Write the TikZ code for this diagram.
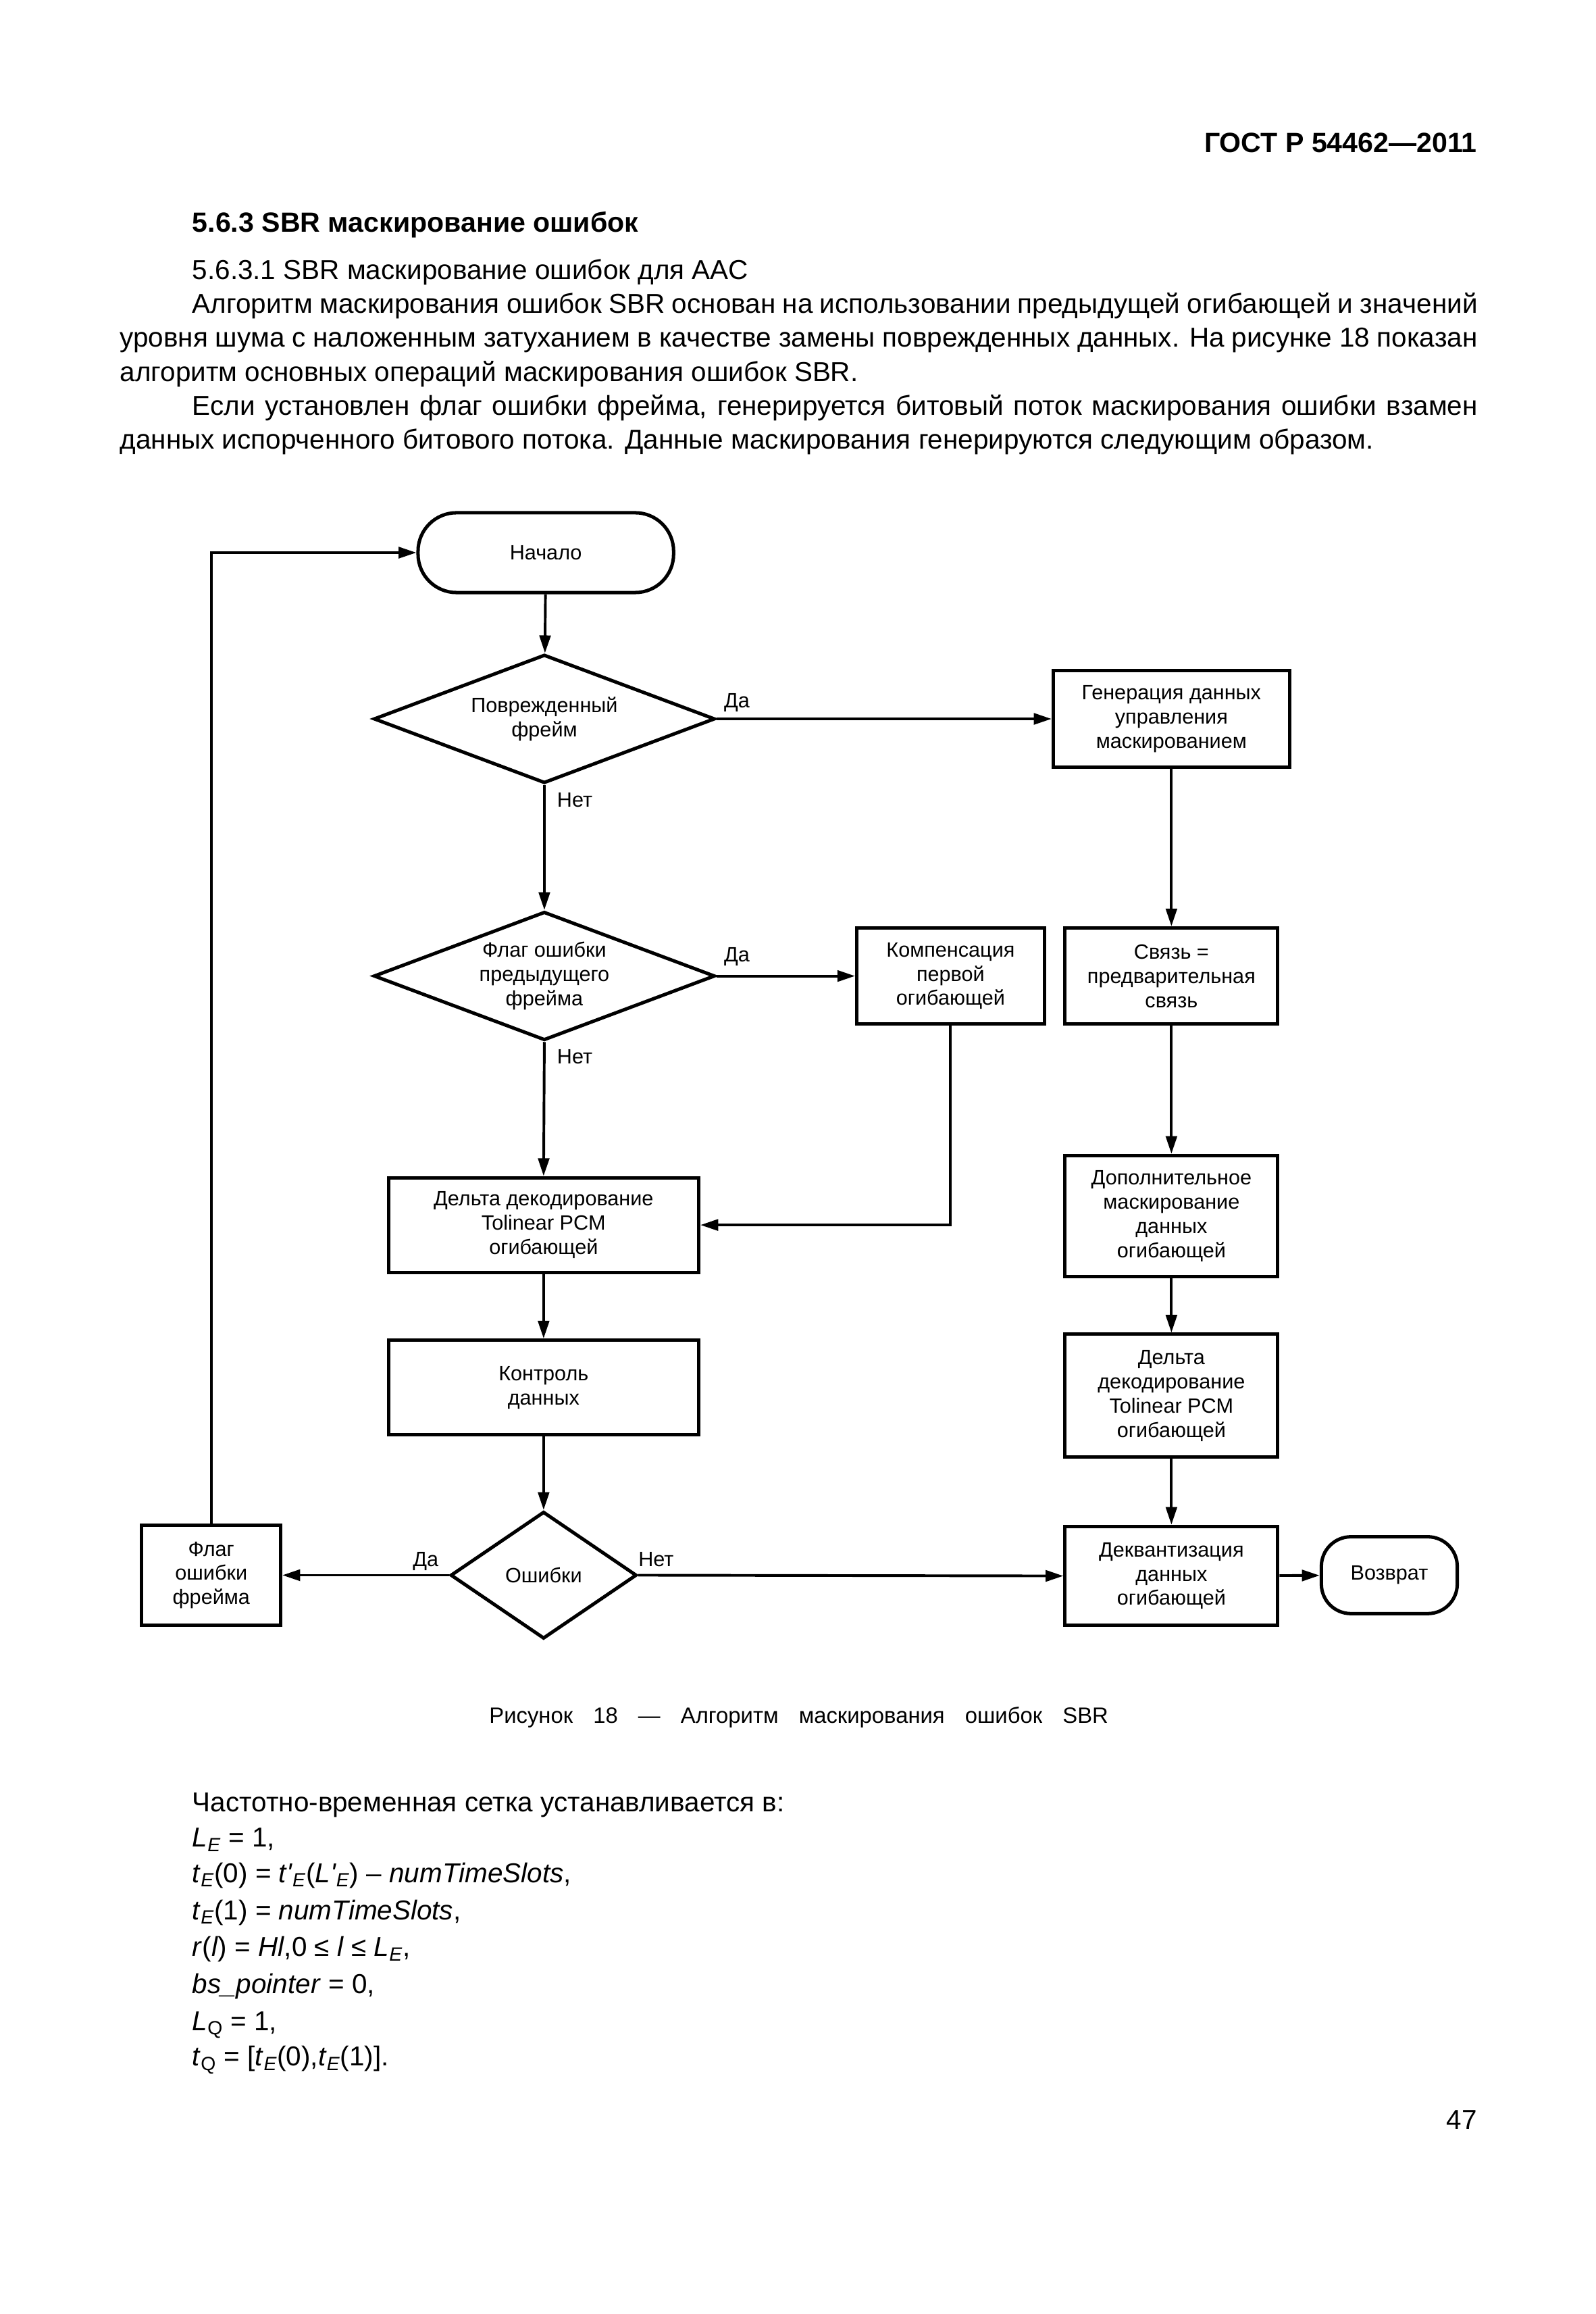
\documentclass[tikz,border=0pt]{standalone}
\usepackage{fontspec}
\setmainfont{Liberation Sans}[Ligatures=TeXOff]
\usetikzlibrary{arrows.meta,shapes.geometric}
\newcommand\bodyfont{\fontsize{18.5}{23}\selectfont}
\newcommand\headfont{\fontsize{18.8}{23}\selectfont\bfseries}
\newcommand\diafont{\fontsize{14}{16.4}\selectfont}
\newcommand\sbs[1]{\textsubscript{\itshape #1}}
\newcommand\sbu[1]{\textsubscript{#1}}
\begin{document}
\begin{tikzpicture}[x=1pt,y=-1pt,
  txt/.style={anchor=base west,inner sep=0pt,font=\bodyfont},
  box/.style={draw,line width=2.3pt,inner sep=0pt,align=center,font=\diafont},
  term/.style={box,rounded corners=#1},
  dia/.style={draw,diamond,line width=2.3pt,inner sep=0pt},
  dtext/.style={inner sep=0pt,align=center,font=\diafont},
  lab/.style={inner sep=0pt,font=\diafont},
  arr/.style={line width=1.8pt,line join=miter,-{Triangle[length=12pt,width=7.5pt]}}]
\useasboundingbox (0,0) rectangle (1080,1566);
\fill[white] (0,0) rectangle (1080,1566);

% ---------- page text ----------
\node[anchor=base east,inner sep=0pt,font=\headfont] (hdr) at (1000,103) {ГОСТ Р 54462—2011};
\node[txt,font=\headfont] (sec) at (130,157) {5.6.3 SBR маскирование ошибок};
\node[txt] (sub) at (130,189) {5.6.3.1 SBR маскирование ошибок для AAC};
\node[txt] (p1) at (130,212) {\makebox[870pt][s]{Алгоритм маскирования ошибок SBR основан на использовании предыдущей огибающей и значений}};
\node[txt] (p2) at (81,235) {\makebox[919pt][s]{уровня шума с наложенным затуханием в качестве замены поврежденных данных. На рисунке 18 показан}};
\node[txt] (p3) at (81,258) {алгоритм основных операций маскирования ошибок SBR.};
\node[txt] (p4) at (130,281) {\makebox[870pt][s]{Если установлен флаг ошибки фрейма, генерируется битовый поток маскирования ошибки взамен}};
\node[txt] (p5) at (81,304) {данных испорченного битового потока. Данные маскирования генерируются следующим образом.};

% ---------- diagram ----------
\node[term=26pt,minimum width=173pt,minimum height=54pt] (nach) at (369.5,374) {Начало};
\node[dia,minimum width=231pt,minimum height=87pt] (d1) at (368.5,486.5) {};
\node[dtext] (d1t) at (368.5,486.5) {Поврежденный\\фрейм};
\node[box,minimum width=160pt,minimum height=65pt] (gen) at (793,486.5) {Генерация данных\\управления\\маскированием};
\node[dia,minimum width=231pt,minimum height=87pt] (d2) at (368.5,660.5) {};
\node[dtext] (d2t) at (368.5,660.5) {Флаг ошибки\\предыдущего\\фрейма};
\node[box,minimum width=127pt,minimum height=65pt] (komp) at (643.5,660.5) {Компенсация\\первой\\огибающей};
\node[box,minimum width=144pt,minimum height=65pt] (svz) at (793,660.5) {Связь =\\предварительная\\связь};
\node[box,minimum width=210pt,minimum height=64pt] (delta) at (368,829) {Дельта декодирование\\Tolinear PCM\\огибающей};
\node[box,minimum width=144pt,minimum height=82pt] (dop) at (793,823) {Дополнительное\\маскирование\\данных\\огибающей};
\node[box,minimum width=210pt,minimum height=64pt] (kontr) at (368,939) {Контроль\\данных};
\node[box,minimum width=144pt,minimum height=83pt] (delta2) at (793,944.5) {Дельта\\декодирование\\Tolinear PCM\\огибающей};
\node[dia,minimum width=126pt,minimum height=86pt] (osh) at (368,1066) {};
\node[dtext] (osht) at (368,1066) {Ошибки};
\node[box,minimum width=94pt,minimum height=68pt] (flag) at (143,1066) {Флаг\\ошибки\\фрейма};
\node[box,minimum width=144pt,minimum height=67pt] (dekv) at (793,1066.5) {Деквантизация\\данных\\огибающей};
\node[term=20pt,minimum width=92pt,minimum height=52pt] (vozv) at (940.5,1066) {Возврат};

% labels
\node[lab,anchor=base west] (l1) at (490,479) {Да};
\node[lab,anchor=base west] (l2) at (377,546) {Нет};
\node[lab,anchor=base west] (l3) at (490,651) {Да};
\node[lab,anchor=base west] (l4) at (377,720) {Нет};
\node[lab,anchor=base east] (l5) at (297,1060) {Да};
\node[lab,anchor=base west] (l6) at (432,1060) {Нет};

% connectors
\draw[arr] (nach) -- (d1);
\draw[arr] (d1.east) -- (gen.west);
\draw[arr] (d1.south) -- (d2.north);
\draw[arr] (d2.east) -- (komp.west);
\draw[arr] (d2.south) -- (delta.north);
\draw[arr] (komp.south) |- (delta.east);
\draw[arr] (delta) -- (kontr);
\draw[arr] (kontr.south) -- (osh.north);
\draw[arr] (osh.west) -- (flag.east);
\draw[arr] (flag.north) |- (nach.west);
\draw[arr] (osh.east) -- (dekv.west);
\draw[arr] (gen) -- (svz);
\draw[arr] (svz) -- (dop);
\draw[arr] (dop) -- (delta2);
\draw[arr] (delta2) -- (dekv);
\draw[arr] (dekv) -- (vozv);

% caption
\node[anchor=base west,inner sep=0pt,font=\fontsize{15}{18}\selectfont] (cap) at (331,1166) {\makebox[419pt][s]{Рисунок 18 — Алгоритм маскирования ошибок SBR}};

% ---------- formulas ----------
\node[txt] (f0) at (130,1226) {Частотно-временная сетка устанавливается в:};
\node[txt] (f1) at (130,1250) {\textit{L}\sbs{E} = 1,};
\node[txt] (f2) at (130,1274) {\textit{t}\sbs{E}(0) = \textit{t'}\sbs{E}(\textit{L'}\sbs{E}) – \textit{numTimeSlots},};
\node[txt] (f3) at (130,1299) {\textit{t}\sbs{E}(1) = \textit{numTimeSlots},};
\node[txt] (f4) at (130,1324) {\textit{r}(\textit{l}) = \textit{Hl},0 ≤ \textit{l} ≤ \textit{L}\sbs{E},};
\node[txt] (f5) at (130,1349) {\textit{bs\_pointer} = 0,};
\node[txt] (f6) at (130,1374) {\textit{L}\sbu{Q} = 1,};
\node[txt] (f7) at (130,1398) {\textit{t}\sbu{Q} = [\textit{t}\sbs{E}(0),\textit{t}\sbs{E}(1)].};

\node[anchor=base east,inner sep=0pt,font=\bodyfont] (pg) at (1000,1441) {47};
\end{tikzpicture}
\end{document}
